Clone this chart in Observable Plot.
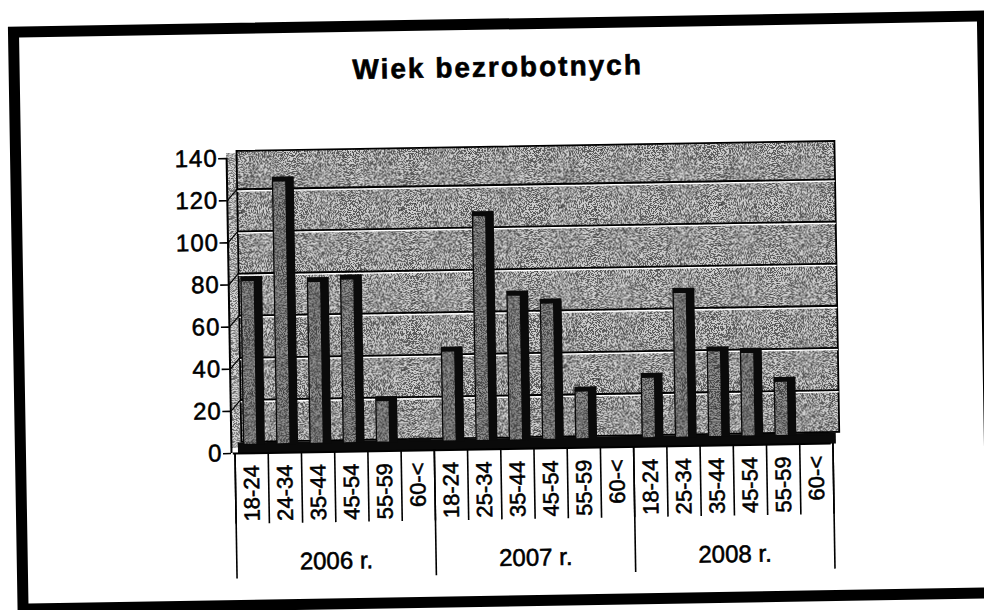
<!DOCTYPE html>
<html>
<head>
<meta charset="utf-8">
<script src="https://cdn.jsdelivr.net/npm/d3@7"></script>
<script src="https://cdn.jsdelivr.net/npm/@observablehq/plot@0.6"></script>
<style>
  html, body { margin: 0; padding: 0; background: #fff; }
  body { width: 984px; height: 610px; overflow: hidden; position: relative; font-family: "Liberation Sans", Arial, sans-serif; }
  #wrap { position: absolute; left: 0; top: 0; width: 984px; height: 610px; transform-origin: 234px 453px; transform: rotate(-0.95deg); }
  #frame { position: absolute; left: 15px; top: 23px; width: 980px; height: 588px; box-sizing: border-box; border: 11px solid #000; }
  #title { position: absolute; left: 0; top: 58px; width: 1008px; text-align: center; font: bold 28px "Liberation Sans", Arial, sans-serif; line-height: 28px; letter-spacing: 2px; color: #000; -webkit-text-stroke: 0.6px #000; }
  #chart { position: absolute; left: 0; top: 0; }
  #chart svg { overflow: visible; }
  #chart text { stroke: #000; stroke-width: 0.55px; }
  #chart [aria-label="y-axis tick label"] text { letter-spacing: 1px; }
</style>
</head>
<body>
<div id="wrap">
  <div id="frame"></div>
  <div id="title">Wiek bezrobotnych</div>
  <div id="chart"></div>
</div>
<script>
// ---- data ----
const groups = ["2006 r.", "2007 r.", "2008 r."];
const ages2006 = ["18-24", "24-34", "35-44", "45-54", "55-59", "60-<"];
const ages2007 = ["18-24", "25-34", "35-44", "45-54", "55-59", "60-<"];
const ages2008 = ["18-24", "25-34", "35-44", "45-54", "55-59", "60-<"];
const values2006 = [80, 127, 79, 80, 22, 2];
const values2007 = [45, 109, 71, 67, 25, 1];
const values2008 = [31, 71, 43, 42, 28, 1];
const yTicks = [0, 20, 40, 60, 80, 100, 120, 140];

const agesByGroup = [ages2006, ages2007, ages2008];
const valuesByGroup = [values2006, values2007, values2008];
const rows = [];
groups.forEach((g, gi) => {
  agesByGroup[gi].forEach((a, k) => {
    rows.push({ i: gi * agesByGroup[gi].length + k, group: g, age: a, value: valuesByGroup[gi][k] });
  });
});
const nCells = rows.length;
const groupRows = groups.map((g, gi) => {
  const start = d3.sum(agesByGroup.slice(0, gi), a => a.length);
  return { group: g, start, end: start + agesByGroup[gi].length };
});
const boundaries = d3.range(0, nCells + 1);
const groupBounds = [0, ...groupRows.map(d => d.end)];

// ---- textures ----
const defs = () => {
  const ns = "http://www.w3.org/2000/svg";
  const el = document.createElementNS(ns, "defs");
  el.innerHTML = `
    <filter id="speck" x="0" y="0" width="100%" height="100%" color-interpolation-filters="sRGB">
      <feTurbulence type="fractalNoise" baseFrequency="1.1" numOctaves="2" seed="7"/>
      <feColorMatrix type="matrix" values="1 0 0 0 0  1 0 0 0 0  1 0 0 0 0  0 0 0 0 1"/>
      <feComponentTransfer>
        <feFuncR type="discrete" tableValues="0 0.25 0.9 1"/>
        <feFuncG type="discrete" tableValues="0 0.25 0.9 1"/>
        <feFuncB type="discrete" tableValues="0 0.25 0.9 1"/>
        <feFuncA type="linear" slope="0" intercept="0.7"/>
      </feComponentTransfer>
    </filter>
    <pattern id="wallPat" patternUnits="userSpaceOnUse" width="160" height="160">
      <rect width="160" height="160" fill="#969696"/>
      <rect width="160" height="160" filter="url(#speck)"/>
    </pattern>
    <pattern id="sidePat" patternUnits="userSpaceOnUse" width="160" height="160">
      <rect width="160" height="160" fill="#b8b8b8"/>
      <rect width="160" height="160" filter="url(#speck)" opacity="0.8"/>
    </pattern>
    <pattern id="barPat" patternUnits="userSpaceOnUse" width="160" height="160">
      <rect width="160" height="160" fill="#505050"/>
      <rect width="160" height="160" filter="url(#speck)" opacity="0.6"/>
    </pattern>`;
  return el;
};

const chart = Plot.plot({
  width: 984,
  height: 610,
  marginTop: 158,
  marginBottom: 157,
  marginLeft: 234.5,
  marginRight: 151.5,
  style: { background: "transparent", fontFamily: "'Liberation Sans', Arial, sans-serif", fontSize: "22px", color: "#000" },
  x: { type: "linear", domain: [0, nCells], axis: null },
  y: { domain: [0, 140] },
  marks: [
    defs,
    // left side wall
    Plot.rect([0], { x1: 0, x2: 0.3, y1: 0, y2: 140, dx: -3.5, dy: -5, fill: "url(#sidePat)" }),
    // back wall
    Plot.rect([0], { x1: 0, x2: nCells, y1: 0, y2: 140, dx: 7, dy: -11, insetTop: 4, fill: "url(#wallPat)", stroke: "#000", strokeWidth: 1.8 }),
    // gridlines on the back wall (with light highlight)
    Plot.ruleY(yTicks.slice(1, -1), { x1: 0, x2: nCells, dx: 7, dy: -9.6, stroke: "#fff", strokeWidth: 1.5 }),
    Plot.ruleY(yTicks.slice(1, -1), { x1: 0, x2: nCells, dx: 7, dy: -11.3, stroke: "#000", strokeWidth: 1.8 }),
    // slanted gridlines on the side wall
    Plot.link(yTicks.slice(1, -1), { x1: 0, x2: 0.3, y1: d => d, y2: d => d + 5.4, dx: -3.5, stroke: "#000", strokeWidth: 1.2 }),
    // floor
    Plot.ruleY([0], { x1: 0, x2: nCells, dx: 3.5, dy: -5.5, stroke: "#0a0a0a", strokeWidth: 11 }),
    // bars: dark body (side + top), then front face
    Plot.rectY(rows, { x1: d => d.i + 0.26, x2: d => d.i + 0.92, y1: 0, y2: "value", dy: -8, fill: "#0a0a0a" }),
    Plot.rectY(rows.filter(d => d.value > 4), { x1: d => d.i + 0.3, x2: d => d.i + 0.66, y1: 0, y2: "value", dy: -8, insetTop: 5, insetBottom: 1, fill: "url(#barPat)" }),
    // y axis line and ticks
    Plot.ruleX([0], { y1: 0, y2: 140, dx: -3.5, stroke: "#000", strokeWidth: 2 }),
    Plot.axisY(yTicks, { tickSize: 8, tickPadding: 1, dx: -3.5, fontSize: 24, label: null, stroke: "#000", strokeWidth: 1.6 }),
    // front edge of the floor
    Plot.ruleY([0], { x1: 0, x2: nCells, dx: -1.7, stroke: "#000", strokeWidth: 2 }),
    // category cell separators
    Plot.ruleX(boundaries, { y1: 0, y2: -33.6, stroke: "#000", strokeWidth: 1.6 }),
    // group separators
    Plot.ruleX(groupBounds, { y1: 0, y2: -59.6, stroke: "#000", strokeWidth: 1.6 }),
    // age labels (rotated)
    Plot.text(rows, { x: d => d.i + 0.5, y: 0, text: "age", rotate: -90, textAnchor: "end", dy: 12, fontSize: 22, fill: "#000" }),
    // group labels
    Plot.text(groupRows, { x: d => (d.start + d.end) / 2, y: 0, text: "group", dy: 117, lineAnchor: "bottom", fontSize: 24, fill: "#000" })
  ]
});
document.getElementById("chart").appendChild(chart);
</script>
</body>
</html>
